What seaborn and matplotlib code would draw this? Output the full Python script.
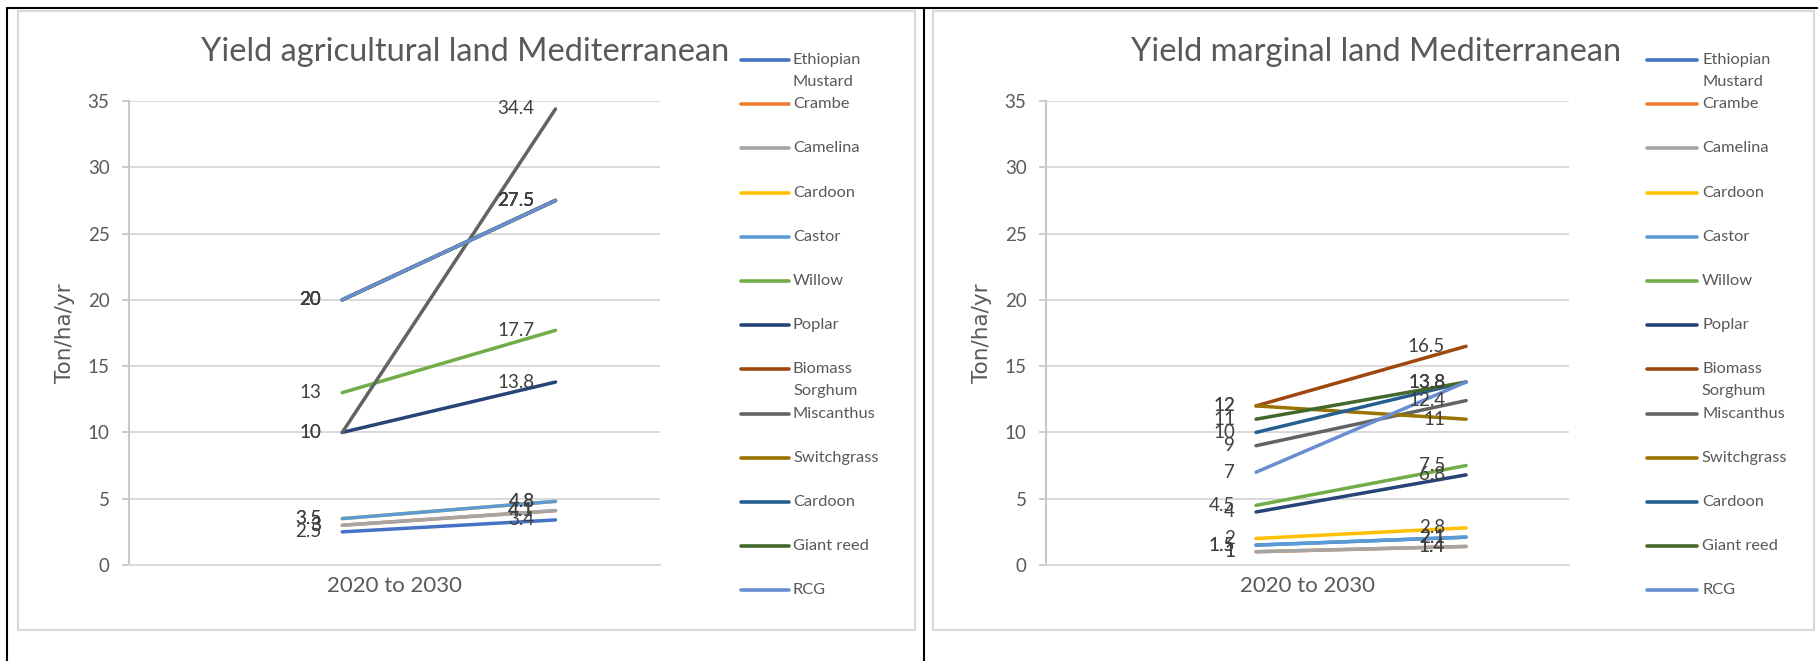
import matplotlib
matplotlib.use("Agg")
import matplotlib.pyplot as plt
from matplotlib.lines import Line2D
from matplotlib.patches import Rectangle
import pandas as pd
import seaborn as sns

# ---- data -------------------------------------------------------------
crops = ["Ethiopian Mustard", "Crambe", "Camelina", "Cardoon", "Castor", "Willow",
         "Poplar", "Biomass Sorghum", "Miscanthus", "Switchgrass", "Cardoon",
         "Giant reed", "RCG"]
colors = ["#4472C4", "#ED7D31", "#A5A5A5", "#FFC000", "#5B9BD5", "#70AD47",
          "#264478", "#9E480E", "#636363", "#997300", "#255E91", "#43682B",
          "#698ED0"]
periods = ["2020", "2030"]
category_label = "2020 to 2030"

agri_2020 = [2.5, 3, 3, 3.5, 3.5, 13, 10, 20, 10, 20, 20, 20, 20]
agri_2030 = [3.4, 4.1, 4.1, 4.8, 4.8, 17.7, 13.8, 27.5, 34.4, 27.5, 27.5, 27.5, 27.5]
marg_2020 = [1.5, 1, 1, 2, 1.5, 4.5, 4, 12, 9, 12, 10, 11, 7]
marg_2030 = [2.1, 1.4, 1.4, 2.8, 2.1, 7.5, 6.8, 16.5, 12.4, 11, 13.8, 13.8, 13.8]

titles = ["Yield agricultural land Mediterranean", "Yield marginal land Mediterranean"]
y_label = "Ton/ha/yr"
y_ticks = [0, 5, 10, 15, 20, 25, 30, 35]

# ---- style ------------------------------------------------------------
sns.set_theme(style="white")
plt.rcParams["font.family"] = ["Lato", "DejaVu Sans"]

W, H = 1818, 661
fig = plt.figure(figsize=(W / 100, H / 100), dpi=100)
fig.patch.set_facecolor("white")

TXT = "#595959"
LBL = "#404040"
GRID = "#d9d9d9"

keys = [f"{i:02d}" for i in range(len(crops))]
palette = dict(zip(keys, colors))


def long_table(v_start, v_end):
    rows = []
    for k, a, b in zip(keys, v_start, v_end):
        rows.append({"series": k, "pos": 0, "value": a})
        rows.append({"series": k, "pos": 1, "value": b})
    return pd.DataFrame(rows)


def px(x0, y0, x1, y1):
    """pixel box (left, top, right, bottom) -> figure fraction rect"""
    return [x0 / W, 1 - y1 / H, (x1 - x0) / W, (y1 - y0) / H]


panels = [
    dict(values=(agri_2020, agri_2030), box=(129, 101, 660, 565),
         title_x=465, frame=(17.6, 10.5, 915, 630), leg_line=(741, 789), leg_text=793),
    dict(values=(marg_2020, marg_2030), box=(1046, 101, 1569, 565),
         title_x=1376, frame=(932.6, 10.5, 1814, 630), leg_line=(1647, 1697), leg_text=1702),
]

for p, title in zip(panels, titles):
    x0, y0, x1, y1 = p["box"]
    ax = fig.add_axes(px(x0, y0, x1, y1))
    df = long_table(*p["values"])
    sns.lineplot(data=df, x="pos", y="value", hue="series", hue_order=keys,
                 palette=palette, legend=False, ax=ax, linewidth=2.5,
                 estimator=None, sort=False, solid_capstyle="round")

    # value labels to the left of each point
    for k, a, b in zip(keys, *p["values"]):
        for xpos, v in ((0, a), (1, b)):
            ax.annotate(f"{v:g}", xy=(xpos, v), xytext=(-21, 0),
                        textcoords="offset pixels", ha="right", va="center",
                        fontsize=13.5, color=LBL)

    ax.set_xlim(-1.0, 1.49)
    ax.set_ylim(0, 35)
    ax.set_yticks(y_ticks)
    mid = sum(ax.get_xlim()) / 2
    ax.set_xticks([mid])
    ax.set_xticklabels([category_label])
    ax.set_xlabel("")
    ax.set_ylabel(y_label, fontsize=15.5, color=TXT, family=["DejaVu Sans"])
    ax.yaxis.set_label_coords(-54 / (x1 - x0), 0.5)

    ax.set_axisbelow(True)
    ax.grid(axis="y", color=GRID, linewidth=1.4)
    ax.grid(axis="x", visible=False)
    for s in ("top", "right"):
        ax.spines[s].set_visible(False)
    ax.spines["left"].set_color("#c8c8c8")
    ax.spines["left"].set_linewidth(1.5)
    ax.spines["bottom"].set_color(GRID)
    ax.spines["bottom"].set_linewidth(1.4)
    ax.tick_params(axis="y", length=5, width=1.3, color="#c8c8c8", pad=9,
                   labelsize=13.5, labelcolor=TXT, left=True)
    ax.tick_params(axis="x", length=0, pad=8, labelsize=16, labelcolor=TXT)
    ax.set_facecolor("none")

    # title
    fig.text(p["title_x"] / W, 1 - 52 / H, title, ha="center", va="center",
             fontsize=23.5, color=TXT)

    # chart frame
    fx0, fy0, fx1, fy1 = p["frame"]
    fig.add_artist(Rectangle((fx0 / W, 1 - fy1 / H), (fx1 - fx0) / W, (fy1 - fy0) / H,
                             transform=fig.transFigure, fill=False,
                             edgecolor=GRID, linewidth=1.5))

    # legend: one row per series, long names wrap onto a second line
    lx0, lx1 = p["leg_line"]
    row0, step, line2 = 60, 44.2, 21.5
    for i, (name, c) in enumerate(zip(crops, colors)):
        yy = row0 + i * step
        fig.add_artist(Line2D([lx0 / W, lx1 / W], [1 - yy / H, 1 - yy / H],
                              transform=fig.transFigure, color=c, linewidth=2.6,
                              solid_capstyle="round"))
        parts = name.split(" ", 1) if name in ("Ethiopian Mustard", "Biomass Sorghum") else [name]
        for j, part in enumerate(parts):
            fig.text(p["leg_text"] / W, 1 - (yy + j * line2) / H, part,
                     ha="left", va="center", fontsize=11.8, color=TXT)

# page rules around the two charts
for xs, ys in (([7 / W, 1], [1 - 8 / H, 1 - 8 / H]),
               ([7 / W, 7 / W], [0, 1 - 8 / H]),
               ([924 / W, 924 / W], [0, 1 - 8 / H])):
    fig.add_artist(Line2D(xs, ys, transform=fig.transFigure, color="black", linewidth=1.5))

fig.savefig("out.png", dpi=100)
